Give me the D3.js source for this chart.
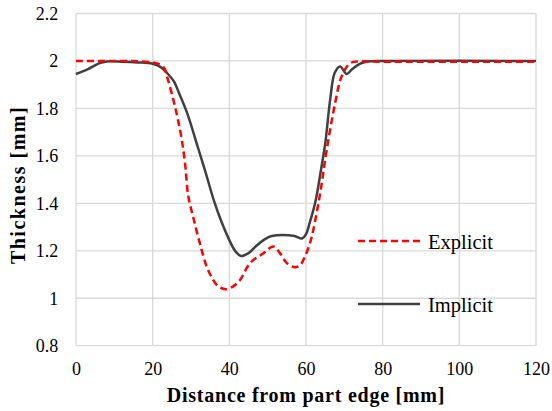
<!DOCTYPE html>
<html><head><meta charset="utf-8">
<script src="https://cdn.jsdelivr.net/npm/d3@7"></script>
<style>body{margin:0;background:#fff}svg{display:block}</style>
</head><body>
<svg id="c" width="552" height="411"></svg>
<script>
const xTicks = [0, 20, 40, 60, 80, 100, 120];
const yTicks = [0.8, 1, 1.2, 1.4, 1.6, 1.8, 2, 2.2];
const seriesNames = ["Explicit", "Implicit"];
const explicitX = [0,10,18,21,22.8,24,25.4,26.5,27.6,28.5,29.3,30.6,32.3,34.1,35.5,36.7,38,39.3,41,42.8,45.4,48.9,51.5,53.2,55,57.1,58.5,59.7,61,61.9,63.7,65.4,67.6,69.3,71.5,74.1,80,120];
const explicitY = [2,2,1.997,1.99,1.975,1.92,1.836,1.76,1.668,1.56,1.43,1.34,1.232,1.133,1.085,1.056,1.042,1.038,1.05,1.077,1.148,1.19,1.218,1.19,1.148,1.131,1.14,1.175,1.23,1.288,1.443,1.625,1.822,1.935,1.99,1.998,1.997,1.997];
const implicitX = [0,3,6,8,12,16,20,22,24,25.5,27,29,32,34,36,38,40,41.5,43,45,47,49,51,54,57,59,60,61,62.5,64,65,66.3,67.5,68.9,70.6,72,74,76,80,120];
const implicitY = [1.945,1.965,1.99,1.998,1.997,1.994,1.988,1.975,1.945,1.915,1.86,1.78,1.625,1.52,1.41,1.32,1.245,1.2,1.178,1.19,1.22,1.246,1.262,1.267,1.262,1.252,1.27,1.32,1.41,1.55,1.65,1.836,1.95,1.977,1.945,1.965,1.988,1.998,2,2];

const svg = d3.select("#c");
const L = 76, R = 536, T = 13.5, B = 345.7;
const x = d3.scaleLinear().domain([0,120]).range([L,R]);
const y = d3.scaleLinear().domain([0.8,2.2]).range([B,T]);
const font = '"Liberation Serif", "Times New Roman", serif';

// grid
svg.append("g").selectAll("line").data(xTicks).join("line")
  .attr("x1",d=>x(d)).attr("x2",d=>x(d)).attr("y1",T).attr("y2",B)
  .attr("stroke","#d9d9d9").attr("stroke-width",1.3);
svg.append("g").selectAll("line").data(yTicks).join("line")
  .attr("x1",L).attr("x2",R).attr("y1",d=>y(d)).attr("y2",d=>y(d))
  .attr("stroke","#d9d9d9").attr("stroke-width",1.3);

// axes (labels only)
const xAxis = svg.append("g").attr("transform",`translate(0,${B})`)
  .call(d3.axisBottom(x).tickValues(xTicks).tickSize(0).tickPadding(16.5).tickFormat(d3.format("d")));
xAxis.select(".domain").remove();
xAxis.selectAll("text").style("font-family",font).style("font-size","18px").attr("fill","#000");
const yAxis = svg.append("g").attr("transform",`translate(${L},0)`)
  .call(d3.axisLeft(y).tickValues(yTicks).tickSize(0).tickPadding(17.7).tickFormat(d=>d3.format("~g")(d)));
yAxis.select(".domain").remove();
yAxis.selectAll("text").style("font-family",font).style("font-size","18px").attr("fill","#000");

// lines
const line = d3.line().x(d=>x(d[0])).y(d=>y(d[1])).curve(d3.curveCatmullRom.alpha(0.5));
const impl = implicitX.map((v,i)=>[v,implicitY[i]]);
const expl = explicitX.map((v,i)=>[v,explicitY[i]]);
svg.append("path").datum(impl).attr("d",line).attr("fill","none")
  .attr("stroke","#404040").attr("stroke-width",2.5);
svg.append("path").datum(expl).attr("d",line).attr("fill","none")
  .attr("stroke","#ff0000").attr("stroke-width",2.5).attr("stroke-dasharray","7,4");

// legend
const leg = [{name:seriesNames[0],color:"#ff0000",dash:"7,4",y:241},{name:seriesNames[1],color:"#404040",dash:null,y:304}];
leg.forEach(d=>{
  svg.append("line").attr("x1",358).attr("x2",420).attr("y1",d.y).attr("y2",d.y)
    .attr("stroke",d.color).attr("stroke-width",2.5).attr("stroke-dasharray",d.dash);
  svg.append("text").attr("x",428).attr("y",d.y+7.5).text(d.name)
    .style("font-family",font).style("font-size","20.5px").attr("fill","#000");
});

// titles
svg.append("text").attr("x",306).attr("y",401.7).attr("text-anchor","middle")
  .style("font-family",font).style("font-size","20px").style("font-weight","bold").style("letter-spacing","0.75px")
  .text("Distance from part edge [mm]");
svg.append("text").attr("transform",`translate(25,185) rotate(-90)`).attr("text-anchor","middle")
  .style("font-family",font).style("font-size","20px").style("font-weight","bold").style("letter-spacing","1.5px")
  .text("Thickness [mm]");
</script>
</body></html>
